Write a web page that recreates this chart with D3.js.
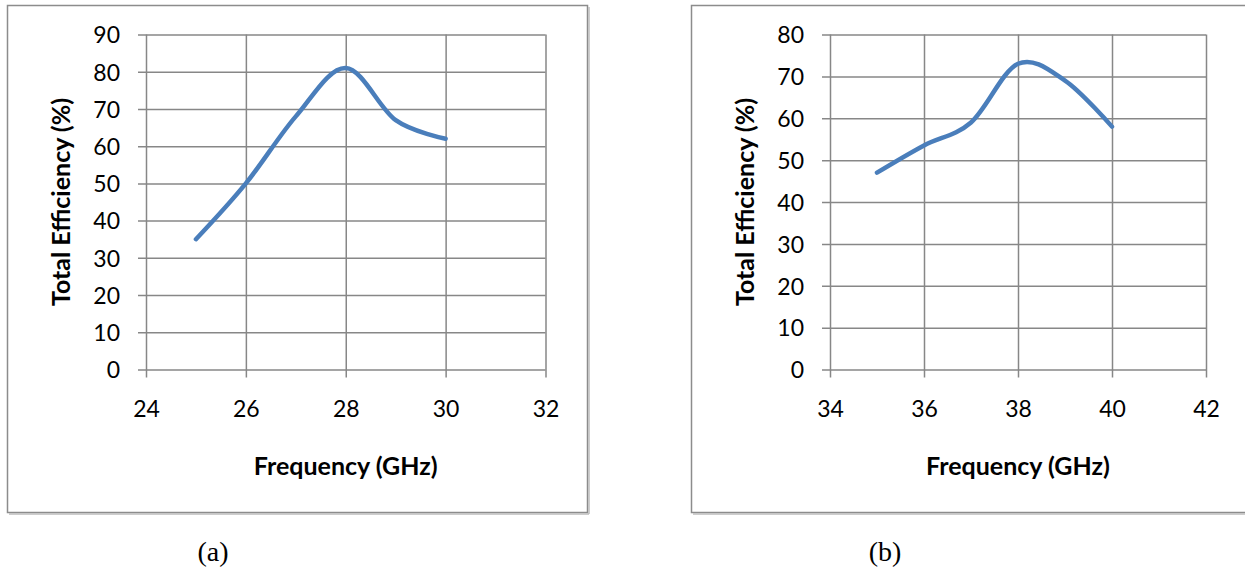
<!DOCTYPE html>
<html>
<head>
<meta charset="utf-8">
<script src="https://cdn.jsdelivr.net/npm/d3@7"></script>
<style>
  html, body { margin: 0; padding: 0; background: #fff; }
  svg { display: block; }
</style>
</head>
<body>
<svg id="chart" width="1245" height="571"></svg>
<script>
// ---- Data ----
const freqA = [25, 26, 27, 28, 29, 30];
const effA = [35, 50, 68, 81, 67, 62];
const xTicksA = [24, 26, 28, 30, 32];
const yTicksA = [0, 10, 20, 30, 40, 50, 60, 70, 80, 90];

const freqB = [35, 36, 37, 38, 39, 40];
const effB = [47, 53.5, 59, 73, 69, 58];
const xTicksB = [34, 36, 38, 40, 42];
const yTicksB = [0, 10, 20, 30, 40, 50, 60, 70, 80];

const xTitle = "Frequency (GHz)";
const yTitle = "Total Efficiency (%)";
const captions = ["(a)", "(b)"];

// ---- Drawing ----
const svg = d3.select("#chart");
const tickFont = "Lato, 'Open Sans', sans-serif";
const gridColor = "#878787";
const lineColor = "#4a7ebb";

const panels = [
  { freq: freqA, eff: effA, xt: xTicksA, yt: yTicksA,
    box: [7.5, 5.5, 580, 507], plot: { x0: 146, x1: 545.5, y0: 34.5, y1: 369.5 },
    yTitleX: 60, caption: captions[0], capX: 213 },
  { freq: freqB, eff: effB, xt: xTicksB, yt: yTicksB,
    box: [691.5, 5.5, 600, 507], plot: { x0: 830, x1: 1206, y0: 34.5, y1: 369.5 },
    yTitleX: 744, caption: captions[1], capX: 885 }
];

panels.forEach(p => {
  const g = svg.append("g");
  // outer frame
  g.append("rect")
    .attr("x", p.box[0]).attr("y", p.box[1])
    .attr("width", p.box[2]).attr("height", p.box[3])
    .attr("fill", "none").attr("stroke", "#8c8c8c").attr("stroke-width", 1.5);
  g.append("line")
    .attr("x1", p.box[0] + 1.5).attr("x2", p.box[0] + p.box[2] + 1.5)
    .attr("y1", p.box[1] + p.box[3] + 1.5).attr("y2", p.box[1] + p.box[3] + 1.5)
    .attr("stroke", "#bdbdbd").attr("stroke-width", 1.5);
  g.append("line")
    .attr("x1", p.box[0] + p.box[2] + 1.5).attr("x2", p.box[0] + p.box[2] + 1.5)
    .attr("y1", p.box[1] + 1.5).attr("y2", p.box[1] + p.box[3] + 1.5)
    .attr("stroke", "#bdbdbd").attr("stroke-width", 1.5);

  const x = d3.scaleLinear().domain(d3.extent(p.xt)).range([p.plot.x0, p.plot.x1]);
  const y = d3.scaleLinear().domain(d3.extent(p.yt)).range([p.plot.y1, p.plot.y0]);
  const w = p.plot.x1 - p.plot.x0;
  const h = p.plot.y1 - p.plot.y0;

  // horizontal gridlines + y ticks
  const yAxis = g.append("g")
    .attr("transform", `translate(${p.plot.x0},0)`)
    .call(d3.axisLeft(y).tickValues(p.yt).tickSizeInner(8).tickSizeOuter(0).tickPadding(18));
  yAxis.select(".domain").remove();
  yAxis.selectAll(".tick line")
    .attr("x2", w).attr("x1", -8)
    .attr("stroke", gridColor).attr("stroke-width", 1.5);
  yAxis.selectAll(".tick text")
    .attr("font-family", tickFont).attr("font-size", 23).attr("fill", "#000")
    .attr("dy", "0.36em");

  // vertical gridlines + x ticks
  const xAxis = g.append("g")
    .attr("transform", `translate(0,${p.plot.y1})`)
    .call(d3.axisBottom(x).tickValues(p.xt).tickSizeInner(8).tickSizeOuter(0).tickPadding(23));
  xAxis.select(".domain").remove();
  xAxis.selectAll(".tick line")
    .attr("y1", -h).attr("y2", 8)
    .attr("stroke", gridColor).attr("stroke-width", 1.5);
  xAxis.selectAll(".tick text")
    .attr("font-family", tickFont).attr("font-size", 23).attr("fill", "#000");

  // line
  const line = d3.line()
    .x((d, i) => x(p.freq[i]))
    .y(d => y(d))
    .curve(d3.curveCatmullRom.alpha(0));
  g.append("path")
    .datum(p.eff)
    .attr("d", line)
    .attr("fill", "none")
    .attr("stroke", lineColor)
    .attr("stroke-width", 4.5)
    .attr("stroke-linecap", "round")
    .attr("stroke-linejoin", "round");

  // axis titles
  g.append("text")
    .attr("x", (p.plot.x0 + p.plot.x1) / 2)
    .attr("y", 465)
    .attr("text-anchor", "middle").attr("dominant-baseline", "central")
    .attr("font-family", tickFont).attr("font-weight", "bold").attr("font-size", 25)
    .text(xTitle);
  g.append("text")
    .attr("transform", `translate(${p.yTitleX},${(p.plot.y0 + p.plot.y1) / 2}) rotate(-90)`)
    .attr("text-anchor", "middle").attr("dominant-baseline", "central")
    .attr("font-family", tickFont).attr("font-weight", "bold").attr("font-size", 25)
    .text(yTitle);

  // caption
  svg.append("text")
    .attr("x", p.capX).attr("y", 551)
    .attr("text-anchor", "middle").attr("dominant-baseline", "central")
    .attr("font-family", "'Liberation Serif', 'Times New Roman', serif")
    .attr("font-size", 28)
    .text(p.caption);
});
</script>
</body>
</html>
